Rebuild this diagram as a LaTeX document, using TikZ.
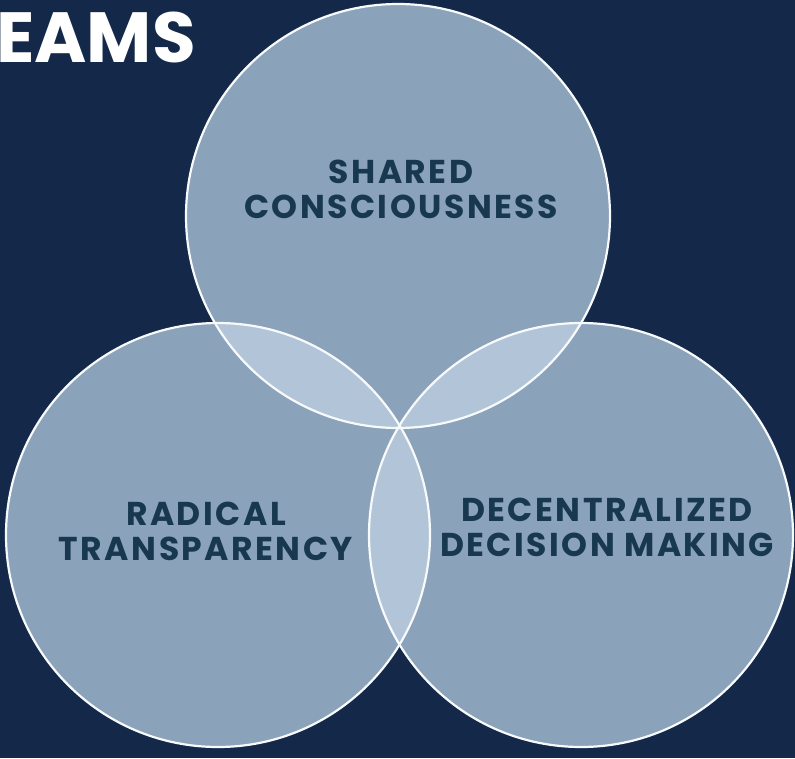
\documentclass[tikz,border=0pt]{standalone}
\usepackage{fontspec}
\setmainfont{Poppins}
\newfontfamily\etichettafont[LetterSpace=7.5]{Poppins}
\usepackage{tikz}
\definecolor{sfondo}{HTML}{14294A}
\definecolor{cerchio}{HTML}{8AA2BA}
\definecolor{lente}{HTML}{B2C5D8}
\definecolor{testo}{HTML}{17384F}
\tikzset{
	etichetta/.style={text=testo, inner sep=0pt, align=center, font=\etichettafont\bfseries\fontsize{33}{35}\selectfont},
	titolo/.style={text=white, inner sep=0pt, anchor=base west, font=\bfseries\fontsize{71}{75}\selectfont},
	bordo/.style={white!90!lente, line width=2.2pt}
}

\begin{document}
\begin{tikzpicture}[x=1pt,y=1pt]
		%\draw [help lines] (0,0) grid (795,-758);
		\fill[sfondo] (0,0) rectangle (795,-758);
		\useasboundingbox (0,0) rectangle (795,-758);
		
		%TITOLO
		\node[titolo] (eams) at (-4,-62) {EAMS};
		
		%CERCHI
		%riempimento
		\fill[cerchio] (398,-216) circle (212);
		\fill[cerchio] (218,-535) circle (212);
		\fill[cerchio] (581,-535) circle (212);
		
		%lenti
		\begin{scope}
			\clip (398,-216) circle (212);
			\fill[lente] (218,-535) circle (212);
			\fill[lente] (581,-535) circle (212);
		\end{scope}
		\begin{scope}
			\clip (218,-535) circle (212);
			\fill[lente] (581,-535) circle (212);
		\end{scope}
		
		%linee
		\draw[bordo] (398,-216) circle (212);
		\draw[bordo] (218,-535) circle (212);
		\draw[bordo] (581,-535) circle (212);
		
		%TESTI
		\node[etichetta] (shared) at (401,-189) {SHARED\\CONSCIOUSNESS};
		\node[etichetta] (radical) at (206,-531) {RADICAL\\TRANSPARENCY};
		\node[etichetta] (decentral) at (607,-527) {DECENTRALIZED\\DECISION MAKING};
		
	\end{tikzpicture}
\end{document}
